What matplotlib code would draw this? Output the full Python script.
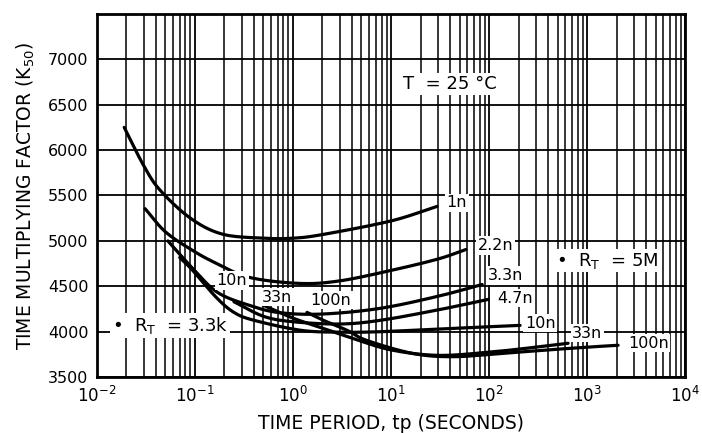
import numpy as np
import matplotlib.pyplot as plt

# curves (time period in s, K50)
t_1n = [0.019, 0.03, 0.044, 0.09, 0.19, 0.5, 1, 2, 10, 29.5]
k_1n = [6250, 5830, 5560, 5250, 5075, 5030, 5030, 5070, 5220, 5380]

t_2n2 = [0.031, 0.05, 0.095, 0.167, 0.36, 1.17, 3, 10, 30, 58]
k_2n2 = [5355, 5100, 4894, 4751, 4598, 4532, 4560, 4675, 4800, 4905]

t_3n3 = [0.053, 0.095, 0.17, 0.36, 0.73, 2, 7.7, 30, 85]
k_3n3 = [5000, 4697, 4433, 4290, 4210, 4195, 4257, 4390, 4520]

t_4n7 = [0.25, 0.5, 1, 3, 7.7, 30, 98]
k_4n7 = [4330, 4170, 4110, 4085, 4125, 4240, 4356]

t_10n = [0.07, 0.095, 0.165, 0.25, 0.4, 1.2, 3, 7.7, 30, 100, 207]
k_10n = [4817, 4675, 4378, 4213, 4126, 4016, 3995, 4000, 4030, 4055, 4070]

t_33n = [0.48, 1, 2, 4, 10, 30, 100, 300, 640]
k_33n = [4300, 4150, 4040, 3930, 3800, 3740, 3775, 3830, 3873]

t_100n = [1.39, 2, 3.56, 5.6, 16.8, 43, 128, 400, 1000, 2070]
k_100n = [4213, 4130, 4016, 3906, 3760, 3725, 3760, 3800, 3830, 3851]

curves = [
    (t_1n, k_1n), (t_2n2, k_2n2), (t_3n3, k_3n3), (t_4n7, k_4n7),
    (t_10n, k_10n), (t_33n, k_33n), (t_100n, k_100n),
]
y_ticks = [3500, 4000, 4500, 5000, 5500, 6000, 6500, 7000]
x_ticks = [1e-2, 1e-1, 1e0, 1e1, 1e2, 1e3, 1e4]
x_ticklabels = ["$10^{-2}$", "$10^{-1}$", "$10^{0}$", "$10^{1}$", "$10^{2}$", "$10^{3}$", "$10^{4}$"]


def smooth(t, k, n=30):
    # catmull-rom through the read points, in log-x
    x = np.log10(t)
    y = np.asarray(k, float)
    px = np.concatenate([[2 * x[0] - x[1]], x, [2 * x[-1] - x[-2]]])
    py = np.concatenate([[2 * y[0] - y[1]], y, [2 * y[-1] - y[-2]]])
    xs, ys = [], []
    u = np.linspace(0, 1, n, endpoint=False)
    for i in range(1, len(px) - 2):
        for p, out in ((px, xs), (py, ys)):
            p0, p1, p2, p3 = p[i - 1], p[i], p[i + 1], p[i + 2]
            out.extend(0.5 * (2 * p1 + (-p0 + p2) * u + (2 * p0 - 5 * p1 + 4 * p2 - p3) * u ** 2
                              + (-p0 + 3 * p1 - 3 * p2 + p3) * u ** 3))
    xs.append(x[-1])
    ys.append(y[-1])
    return 10 ** np.array(xs), np.array(ys)


plt.rcParams['font.family'] = ['DejaVu Sans']
fig = plt.figure(figsize=(7.02, 4.33), dpi=100)
ax = fig.add_axes([0.138, 0.129, 0.838, 0.839])

ax.set_xscale('log')
ax.set_xlim(1e-2, 1e4)
ax.set_ylim(3500, 7500)

ax.set_xticks(x_ticks)
ax.set_xticklabels(x_ticklabels, fontsize=12)
ax.set_yticks(y_ticks)
ax.set_yticklabels([str(v) for v in y_ticks], fontsize=11.5)
ax.tick_params(which='both', length=0, pad=6)

ax.grid(True, which='major', color='black', linewidth=1.3)
ax.grid(True, which='minor', axis='x', color='black', linewidth=1.1)
for s in ax.spines.values():
    s.set_linewidth(2)

for t, k in curves:
    xs, ys = smooth(t, k)
    ax.plot(xs, ys, color='black', lw=2.3, solid_capstyle='round')

box = dict(boxstyle='square,pad=0.1', fc='white', ec='none')
txt = dict(fontsize=11.5, color='black', bbox=box, va='center')

# end labels (long curves)
ax.text(37, 5421, "1n", ha='left', **txt)
ax.text(77, 4949, "2.2n", ha='left', **txt)
ax.text(96, 4620, "3.3n", ha='left', **txt)
ax.text(120, 4367, "4.7n", ha='left', **txt)
ax.text(233, 4093, "10n", ha='left', **txt)
ax.text(703, 3983, "33n", ha='left', **txt)
ax.text(2618, 3873, "100n", ha='left', **txt)

# mid labels
ax.text(0.239, 4565, "10n", ha='center', **txt)
ax.text(0.687, 4378, "33n", ha='center', **txt)
ax.text(2.44, 4345, "100n", ha='center', **txt)

big = dict(txt, fontsize=13)
ax.text(0.0555, 4070, "•  R$_\\mathrm{T}$  = 3.3k", ha='center', **big)
ax.text(1590, 4784, "•  R$_\\mathrm{T}$  = 5M", ha='center', **big)
ax.text(40, 6727, "T  = 25 °C", ha='center', **big)

ax.set_xlabel("TIME PERIOD, tp (SECONDS)", fontsize=13.5, labelpad=6)
ax.set_ylabel("TIME MULTIPLYING FACTOR (K$_{50}$)", fontsize=13.5, labelpad=8)

fig.savefig("out.png", dpi=100)
